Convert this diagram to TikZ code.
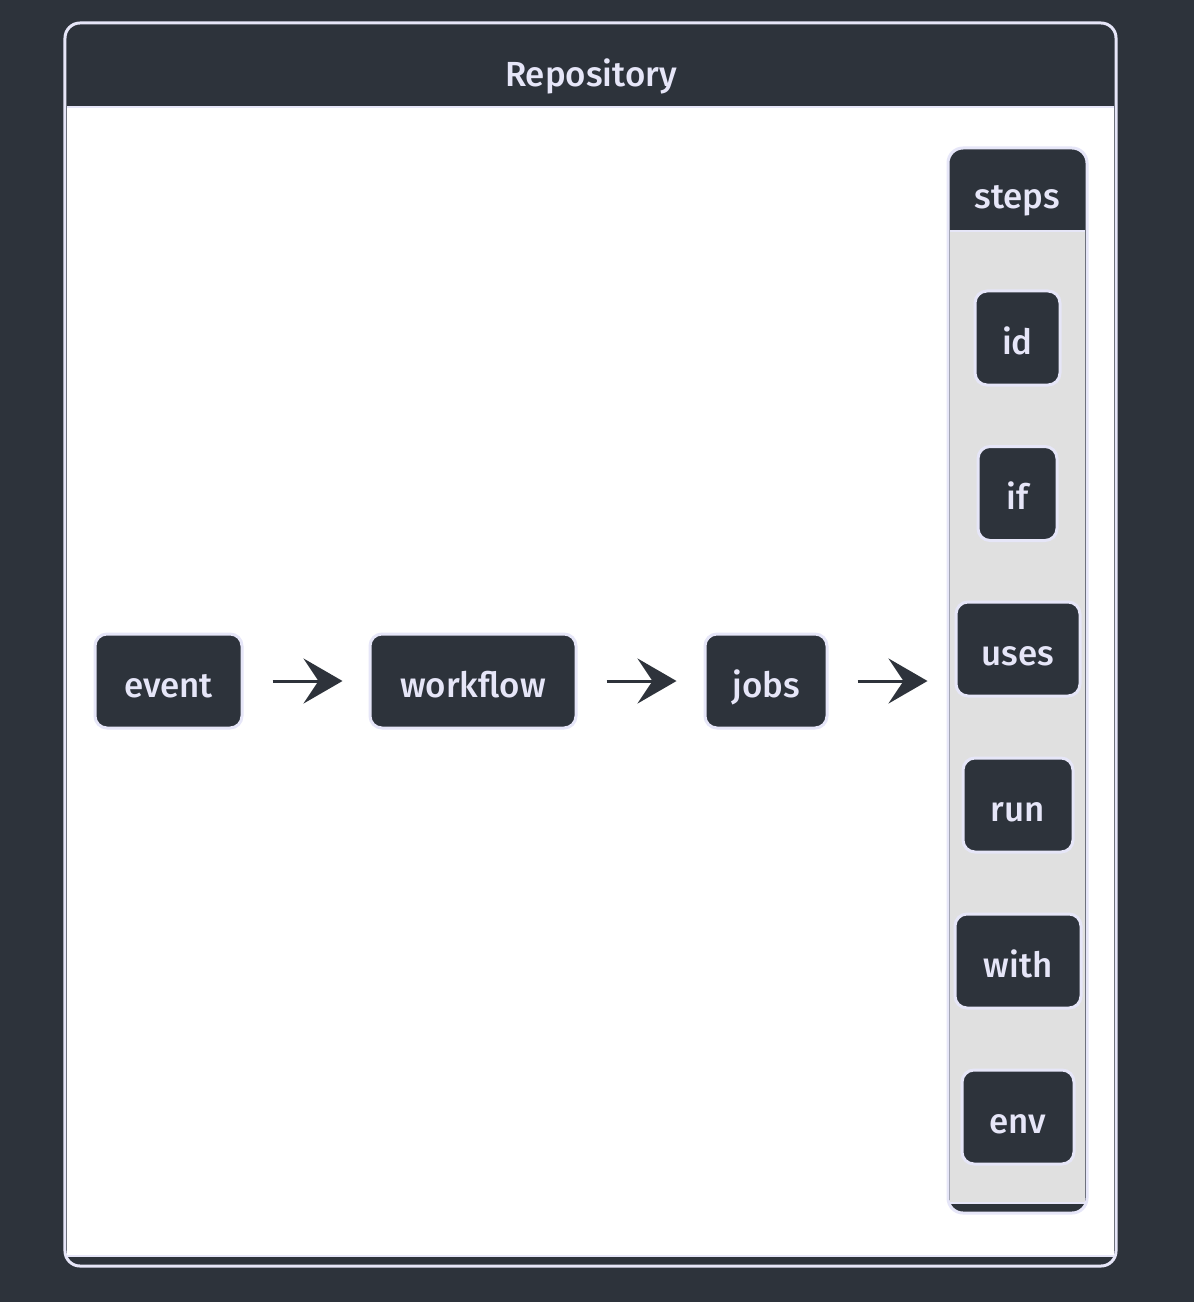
\documentclass[tikz,border=0pt]{standalone}
\usepackage{fontspec}
\setmainfont{Fira Sans}[UprightFont={* Medium}]
\usetikzlibrary{arrows.meta}
\definecolor{bgdark}{HTML}{2D333B}
\definecolor{lav}{HTML}{E6E6F8}
\definecolor{greybody}{HTML}{E0E0E0}
\definecolor{arrowc}{HTML}{2E333B}
\begin{document}
\begin{tikzpicture}[x=1bp,y=-1bp,
  box/.style={draw=lav, line width=3bp, fill=bgdark, rounded corners=12bp,
    minimum height=94bp, inner sep=0pt, text=lav, text height=36bp, text depth=4bp,
    font=\fontsize{35}{40}\selectfont},
  container/.style={draw=lav, line width=3bp, fill=bgdark, rounded corners=15bp, inner sep=0pt},
  title/.style={text=lav, font=\fontsize{35}{40}\selectfont, inner sep=0pt, anchor=base},
  conn/.style={draw=arrowc, line width=3bp,
    -{Stealth[length=39bp, width=45bp, inset=15bp]}}]
\useasboundingbox (0,0) rectangle (1194,1302);
\fill[bgdark] (0,0) rectangle (1194,1302);
% Repository container
\node[container, minimum width=1051bp, minimum height=1243bp] (repo) at (590.5,644.5) {};
\fill[white] (67,107) rectangle (1114,1256);
\draw[lav, line width=2bp] (67,107) -- (1114,107);
\draw[lav, line width=2bp] (67,1256) -- (1114,1256);
\node[title] (repotitle) at (591,87) {Repository};
% steps container
\node[container, minimum width=139bp, minimum height=1065bp] (stepsbox) at (1017.5,680.5) {};
\fill[greybody] (950,231) rectangle (1085,1203);
\draw[lav, line width=2bp] (950,231) -- (1085,231);
\draw[lav, line width=2bp] (950,1203) -- (1085,1203);
\node[title] (stepstitle) at (1017.5,209) {steps};
% nodes
\node[box, minimum width=147bp] (event) at (168.5,681) {event};
\node[box, minimum width=206bp] (workflow) at (473,681) {workflow};
\node[box, minimum width=122bp] (jobs) at (766,681) {jobs};
\node[box, minimum width=85bp] (id) at (1017.5,338) {id};
\node[box, minimum width=79bp] (if) at (1017.5,493.5) {if};
\node[box, minimum width=124bp] (uses) at (1018,649) {uses};
\node[box, minimum width=110bp] (run) at (1018,805) {run};
\node[box, minimum width=126bp] (with) at (1018,961) {with};
\node[box, minimum width=112bp] (env) at (1018,1117) {env};
% connectors
\draw[conn, shorten <=29bp, shorten >=26bp] (event.east) -- (workflow.west);
\draw[conn, shorten <=29bp, shorten >=27bp] (workflow.east) -- (jobs.west);
\draw[conn, shorten <=29bp, shorten >=19bp] (jobs.east) -- (stepsbox.west |- jobs.east);
\end{tikzpicture}
\end{document}
